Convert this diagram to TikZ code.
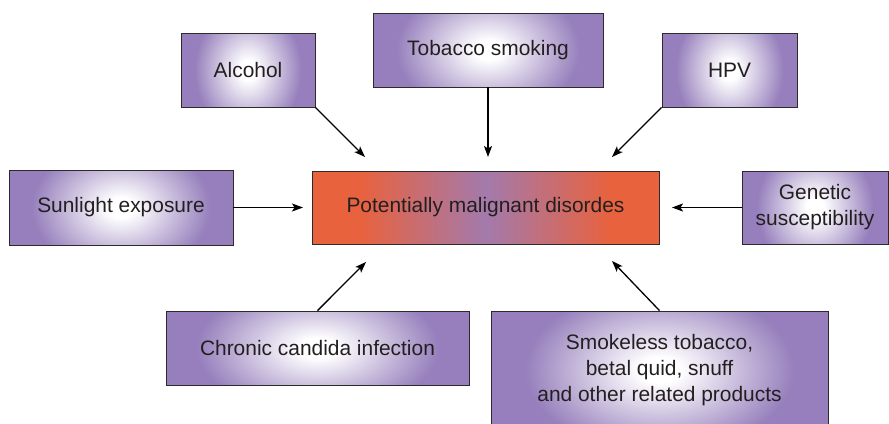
\documentclass[tikz,border=0pt]{standalone}
\usepackage{fontspec}
\setmainfont{Liberation Sans}
\usepackage{tikz}
\usetikzlibrary{arrows.meta,shapes}

\definecolor{purp}{RGB}{150,127,188}
\definecolor{coreorange}{RGB}{232,98,62}
\definecolor{coremid}{RGB}{163,122,172}
\definecolor{darkline}{RGB}{45,42,44}
\definecolor{inktext}{RGB}{35,31,32}

\pgfdeclareradialshading[purp]{boxglow}{\pgfpoint{0bp}{0bp}}{color(0bp)=(white); color(3bp)=(white); color(20bp)=(purp); color(50bp)=(purp)}
\pgfdeclarehorizontalshading[coreorange,coremid]{coreglow}{100bp}{color(0bp)=(coreorange); color(32bp)=(coreorange); color(50bp)=(coremid); color(68bp)=(coreorange); color(100bp)=(coreorange)}

\begin{document}
\begin{tikzpicture}[
  >={Stealth[length=11bp,width=8bp,inset=2.5bp]},
  every node/.style={font=\fontsize{21}{26}\selectfont,text=inktext,align=center,inner sep=0pt},
  causebox/.style={draw=darkline,line width=0.8bp,rectangle,
    path picture={\shade[shading=boxglow]
      ([yshift=-45bp]path picture bounding box.south west) rectangle
      ([yshift=45bp]path picture bounding box.north east);}},
  corebox/.style={draw=darkline,line width=0.8bp,rectangle,shading=coreglow},
  link/.style={->,line width=1.3bp,draw=black}
]
\useasboundingbox (0bp,0bp) rectangle (889bp,-424bp);

\node (Alc) at (248bp,-70bp)[causebox,minimum width=134bp,minimum height=74bp] {Alcohol};
\node (Tob) at (488bp,-50bp)[causebox,minimum width=230bp,minimum height=74bp] {Tobacco smoking};
\node (HPV) at (729.5bp,-70bp)[causebox,minimum width=135bp,minimum height=74bp] {HPV};
\node (Sun) at (121bp,-207.5bp)[causebox,minimum width=224bp,minimum height=75bp] {Sunlight exposure};
\node (PMD) at (485.5bp,-207.5bp)[corebox,minimum width=347bp,minimum height=73bp] {Potentially malignant disordes};
\node (Gen) at (815bp,-207.5bp)[causebox,minimum width=146bp,minimum height=73bp] {Genetic\\susceptibility};
\node (Can) at (317.5bp,-348bp)[causebox,minimum width=303bp,minimum height=74bp] {Chronic candida infection};
\node (Smk) at (659.5bp,-370bp)[causebox,minimum width=337bp,minimum height=118bp] {Smokeless tobacco,\\betal quid, snuff\\and other related products};

\coordinate (TAlc) at (365bp,-157bp);
\coordinate (TTob) at (488bp,-157bp);
\coordinate (THPV) at (612bp,-157bp);
\coordinate (TSun) at (303bp,-207.5bp);
\coordinate (TGen) at (672bp,-207.5bp);
\coordinate (TCan) at (366bp,-262bp);
\coordinate (TSmk) at (612bp,-261bp);

\draw [link] (Alc.south east) -- (TAlc);
\draw [link] (Tob.south) -- (TTob);
\draw [link] (HPV.south west) -- (THPV);
\draw [link] (Sun.east) -- (TSun);
\draw [link] (Gen.west) -- (TGen);
\draw [link] (Can.north) -- (TCan);
\draw [link] (Smk.north) -- (TSmk);
\end{tikzpicture}
\end{document}
